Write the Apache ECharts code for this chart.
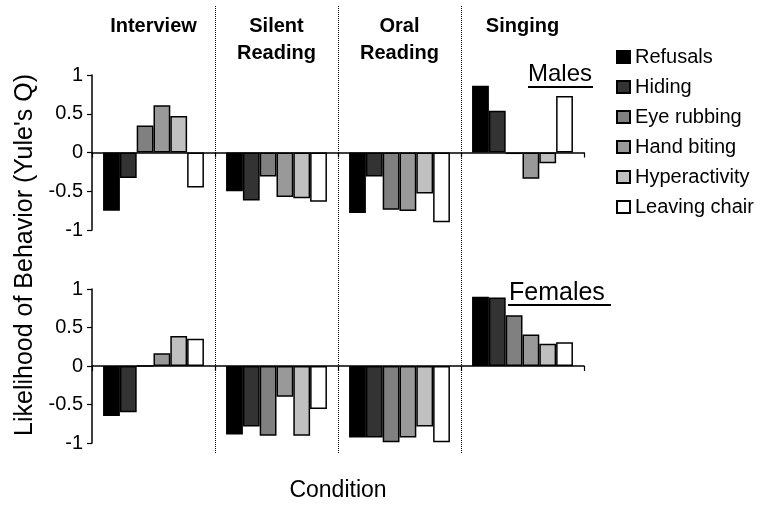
<!DOCTYPE html>
<html>
<head>
<meta charset="utf-8">
<script src="https://cdn.jsdelivr.net/npm/echarts@6/dist/echarts.min.js"></script>
<style>html,body{margin:0;padding:0;background:#fff;}#c{width:760px;height:514px;}</style>
</head>
<body>
<div id="c"></div>
<script>
// Categories
const conditions = ["Interview", "Silent\nReading", "Oral\nReading", "Singing"];
const behaviors = ["Refusals", "Hiding", "Eye rubbing", "Hand biting", "Hyperactivity", "Leaving chair"];
const behaviorColors = ["#000000", "#333333", "#808080", "#999999", "#c0c0c0", "#ffffff"];
const yTickValues = [-1, -0.5, 0, 0.5, 1];

// Males: values per condition [Interview, Silent Reading, Oral Reading, Singing]
const malesRefusals     = [-0.75, -0.50, -0.78,  0.86];
const malesHiding       = [-0.33, -0.62, -0.31,  0.54];
const malesEyeRubbing   = [ 0.35, -0.31, -0.74, -0.02];
const malesHandBiting   = [ 0.61, -0.575, -0.755, -0.34];
const malesHyperactivity= [ 0.47, -0.59, -0.53, -0.14];
const malesLeavingChair = [-0.45, -0.635, -0.90,  0.73];

// Females
const femalesRefusals     = [-0.65, -0.89, -0.93, 0.90];
const femalesHiding       = [-0.60, -0.785, -0.93, 0.89];
const femalesEyeRubbing   = [ 0.00, -0.905, -0.99, 0.66];
const femalesHandBiting   = [ 0.165, -0.40, -0.93, 0.41];
const femalesHyperactivity= [ 0.39, -0.905, -0.785, 0.29];
const femalesLeavingChair = [ 0.355, -0.56, -0.99, 0.31];

const malesData = [malesRefusals, malesHiding, malesEyeRubbing, malesHandBiting, malesHyperactivity, malesLeavingChair];
const femalesData = [femalesRefusals, femalesHiding, femalesEyeRubbing, femalesHandBiting, femalesHyperactivity, femalesLeavingChair];

const FONT = '"Liberation Sans", Arial, Helvetica, sans-serif';

const chart = echarts.init(document.getElementById('c'), null, {renderer: 'canvas'});

function xAxisPanel(idx) {
  return {
    type: 'category', gridIndex: idx, data: conditions,
    axisLine: {show: true, onZero: true, lineStyle: {color: '#000', width: 1.5}},
    axisTick: {show: true, length: 5, interval: 0, lineStyle: {color: '#000', width: 1.2}},
    axisLabel: {show: false},
    splitLine: {show: false}
  };
}
function yAxisPanel(idx) {
  return {
    type: 'value', gridIndex: idx,
    min: yTickValues[0], max: yTickValues[yTickValues.length - 1],
    interval: yTickValues[1] - yTickValues[0],
    axisLine: {show: true, lineStyle: {color: '#000', width: 1.5}},
    axisTick: {show: true, length: 5, lineStyle: {color: '#000', width: 1.2}},
    axisLabel: {show: true, fontSize: 20, fontFamily: FONT, color: '#000', margin: 9},
    splitLine: {show: false}
  };
}

const series = [];
[malesData, femalesData].forEach(function (set, g) {
  set.forEach(function (vals, i) {
    series.push({
      type: 'bar', name: behaviors[i], xAxisIndex: g, yAxisIndex: g,
      data: vals,
      barGap: '0%', barCategoryGap: '18%',
      itemStyle: {color: behaviorColors[i], borderColor: '#000', borderWidth: 1.5},
      emphasis: {disabled: true}
    });
  });
});

chart.setOption({
  animation: false,
  backgroundColor: '#fff',
  grid: [
    {left: 92, top: 75, width: 492, height: 155},
    {left: 92, top: 289, width: 492, height: 154},
    {left: 92, top: 6, width: 492, height: 447}
  ],
  xAxis: [
    xAxisPanel(0),
    xAxisPanel(1),
    {
      type: 'category', gridIndex: 2, data: conditions, position: 'top',
      axisLine: {show: false}, axisTick: {show: false},
      axisLabel: {show: true, inside: true, margin: 7, interval: 0, fontSize: 20, fontWeight: 'bold',
        fontFamily: FONT, color: '#000', lineHeight: 27},
      splitLine: {show: true, interval: 0, showMinLine: false, showMaxLine: false,
        lineStyle: {color: '#000', type: 'dotted', width: 1}}
    }
  ],
  yAxis: [
    yAxisPanel(0),
    yAxisPanel(1),
    {type: 'value', gridIndex: 2, min: 0, max: 1, show: false}
  ],
  legend: {
    data: behaviors, orient: 'vertical', left: 616, top: 47, padding: 0,
    itemWidth: 13, itemHeight: 12, itemGap: 10, icon: 'rect', selectedMode: false,
    textStyle: {fontSize: 20, fontFamily: FONT, color: '#000', lineHeight: 20}
  },
  graphic: [
    {type: 'text', x: 25, y: 255, rotation: Math.PI / 2,
      style: {text: "Likelihood of Behavior (Yule's Q)", font: '25px ' + FONT, fill: '#000',
        textAlign: 'center', textVerticalAlign: 'middle'}},
    {type: 'text', x: 338, y: 491,
      style: {text: 'Condition', font: '23px ' + FONT, fill: '#000', textAlign: 'center', textVerticalAlign: 'middle'}},
    {type: 'text', x: 528, y: 74,
      style: {text: 'Males', font: '24px ' + FONT, fill: '#000', textAlign: 'left', textVerticalAlign: 'middle'}},
    {type: 'line', shape: {x1: 528, y1: 87, x2: 593, y2: 87}, style: {stroke: '#000', lineWidth: 2}},
    {type: 'text', x: 509, y: 293,
      style: {text: 'Females', font: '25px ' + FONT, fill: '#000', textAlign: 'left', textVerticalAlign: 'middle'}},
    {type: 'line', shape: {x1: 508, y1: 305, x2: 611, y2: 305}, style: {stroke: '#000', lineWidth: 2}}
  ],
  series: series
});
</script>
</body>
</html>
